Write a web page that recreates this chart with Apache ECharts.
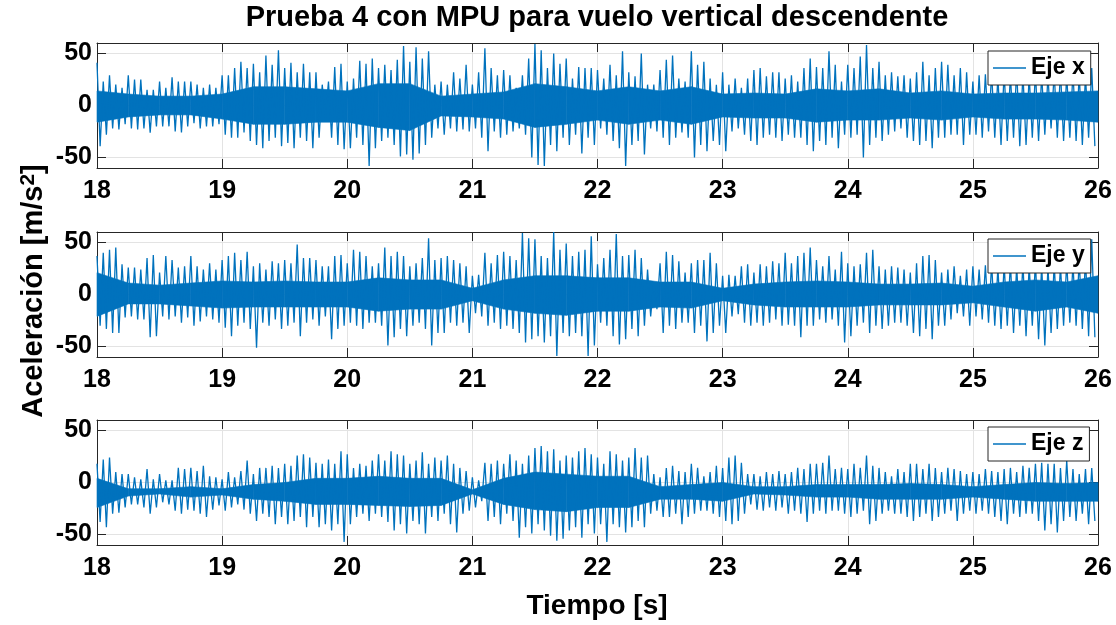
<!DOCTYPE html>
<html>
<head>
<meta charset="utf-8">
<script src="https://cdn.jsdelivr.net/npm/echarts@6/dist/echarts.min.js"></script>
<style>
html,body{margin:0;padding:0;background:#fff;}
#chart{width:1116px;height:625px;}
</style>
</head>
<body>
<div id="chart"></div>
<script>
// ---- Data (time step 0.05 s from 18 s, alternating peak up/down) ----
const tStart = 18;
const peakStep = 0.05;
const coreStep = 0.25;
const xTicks = [18, 19, 20, 21, 22, 23, 24, 25, 26];
const yTicks = [-50, 0, 50];
const seriesNames = ['Eje x', 'Eje y', 'Eje z'];

const xUp = [41,23,29,20,17,29,25,25,15,15,23,17,27,23,23,23,20,17,20,17,29,29,36,42,36,40,32,48,39,53,36,41,32,40,32,32,20,23,37,40,
  23,26,43,40,45,36,39,34,44,57,42,56,45,52,20,23,20,32,26,39,20,32,55,36,29,34,29,17,29,45,59,53,36,50,40,45,26,37,36,36,
  34,26,39,29,52,32,28,50,20,20,34,44,48,26,23,52,39,42,26,20,32,20,26,17,26,34,36,28,32,32,26,29,23,36,45,37,36,52,39,23,
  39,36,47,58,36,42,29,32,28,29,26,32,42,29,36,42,39,29,36,32,23,29,30,32,28,33,30,35,31,29,33,30,28,32,34,30,33,31,29,36];
const xDn = [-39,-28,-22,-23,-18,-22,-23,-22,-26,-20,-20,-20,-25,-26,-20,-17,-22,-20,-20,-18,-28,-31,-31,-26,-34,-38,-41,-34,-31,-39,-36,-41,-31,-34,-41,-31,-12,-31,-38,-42,
  -41,-31,-38,-58,-41,-34,-31,-38,-49,-47,-52,-46,-38,-31,-22,-28,-22,-25,-23,-25,-22,-31,-44,-25,-31,-28,-25,-22,-28,-50,-57,-58,-38,-44,-31,-38,-28,-46,-31,-38,
  -22,-28,-34,-41,-58,-38,-34,-47,-22,-25,-31,-38,-31,-26,-31,-50,-38,-44,-34,-38,-44,-25,-22,-28,-34,-38,-31,-28,-31,-34,-28,-31,-31,-38,-44,-34,-38,-31,-41,-28,
  -31,-28,-50,-38,-31,-34,-28,-25,-22,-31,-34,-38,-34,-41,-31,-31,-28,-28,-38,-28,-28,-31,-25,-31,-38,-34,-31,-39,-38,-31,-34,-28,-22,-31,-34,-31,-34,-38,-31,-39];

const yUp = [37,40,43,45,29,26,26,24,35,38,21,37,33,26,27,37,27,24,30,24,33,37,40,33,41,27,30,24,32,30,33,30,48,35,35,33,27,27,37,38,
  30,43,41,37,27,30,45,37,41,37,27,30,35,54,33,35,37,33,30,27,18,19,40,30,38,41,37,33,59,54,53,37,35,60,43,49,37,41,43,56,
  29,35,43,58,37,38,43,35,24,12,30,41,38,32,21,30,33,33,40,30,18,19,18,27,29,21,29,27,32,30,40,30,37,40,45,33,27,37,24,41,
  30,27,29,40,43,27,24,27,26,24,21,30,37,38,33,21,24,27,18,24,27,24,28,30,26,29,31,27,30,28,32,29,27,30,28,31,29,33,35,53];
const yDn = [-30,-33,-37,-37,-22,-21,-24,-24,-41,-40,-21,-24,-21,-27,-22,-30,-26,-21,-24,-27,-32,-40,-30,-27,-33,-51,-27,-30,-24,-33,-30,-27,-40,-27,-24,-30,-21,-43,-33,-30,
  -27,-30,-33,-27,-27,-30,-49,-41,-33,-40,-30,-27,-33,-49,-37,-37,-27,-30,-27,-37,-18,-21,-30,-27,-33,-30,-33,-37,-46,-43,-40,-46,-40,-59,-37,-40,-37,-40,-59,-49,
  -27,-30,-40,-48,-43,-33,-40,-30,-21,-14,-37,-30,-33,-27,-27,-37,-30,-45,-37,-30,-37,-21,-19,-27,-30,-27,-30,-27,-24,-30,-29,-30,-41,-30,-30,-24,-27,-24,-30,-46,
  -40,-30,-27,-37,-30,-33,-30,-27,-27,-30,-37,-40,-33,-43,-30,-30,-24,-18,-21,-30,-21,-24,-27,-30,-33,-30,-37,-30,-40,-30,-43,-49,-37,-33,-30,-27,-30,-33,-40,-41];

const zUp = [18,22,24,10,8,8,5,3,13,3,8,2,2,14,13,14,11,16,6,5,3,10,5,11,21,8,14,14,16,14,18,16,26,27,24,19,18,22,18,30,
  27,14,18,16,21,27,21,30,27,26,18,21,29,18,24,21,26,18,14,11,5,2,19,18,21,18,27,21,18,26,33,35,30,32,21,26,24,30,33,27,
  24,18,30,27,21,24,33,24,26,8,5,14,16,11,10,18,14,6,10,16,14,24,26,19,8,8,6,10,8,11,8,10,14,13,18,18,19,26,13,14,
  13,18,14,26,16,14,10,6,13,10,18,18,13,18,14,10,14,13,11,8,10,8,13,11,10,13,14,10,16,14,18,19,18,18,14,21,13,8,13,14];
const zDn = [-38,-43,-30,-29,-24,-21,-21,-24,-30,-24,-19,-21,-27,-30,-26,-27,-30,-33,-26,-22,-27,-24,-21,-26,-30,-37,-30,-33,-40,-33,-40,-37,-33,-43,-33,-43,-40,-46,-40,-57,
  -40,-33,-30,-37,-30,-33,-38,-46,-40,-49,-37,-40,-49,-33,-37,-30,-40,-48,-30,-27,-24,-18,-37,-33,-40,-30,-37,-53,-43,-49,-40,-46,-51,-56,-54,-46,-43,-53,-40,-49,
  -40,-57,-40,-43,-48,-43,-37,-43,-30,-27,-33,-33,-30,-40,-33,-30,-27,-27,-30,-33,-37,-40,-37,-30,-21,-26,-27,-24,-27,-24,-30,-27,-30,-38,-30,-27,-30,-27,-27,-30,
  -33,-30,-27,-40,-37,-30,-27,-30,-30,-33,-37,-33,-30,-37,-33,-30,-27,-37,-30,-27,-30,-27,-30,-33,-37,-40,-30,-33,-30,-30,-37,-46,-40,-48,-37,-33,-37,-30,-40,-37];

// dense core of the signal, every 0.25 s
const xCoreUp = [14,11,9,9,11,18,18,16,14,21,21,9,11,13,21,18,14,18,14,18,11,12,11,16,14,16,12,14,11,12,12,13,14];
const xCoreDn = [-16,-11,-9,-9,-13,-18,-18,-16,-16,-21,-24,-10,-11,-13,-21,-18,-14,-18,-14,-18,-11,-12,-12,-16,-14,-14,-12,-14,-11,-13,-13,-14,-16];
const yCoreUp = [21,11,9,11,13,12,13,12,12,16,14,14,6,14,18,18,16,16,12,12,6,10,12,13,12,10,10,11,8,12,14,12,18];
const yCoreDn = [-21,-9,-9,-11,-13,-12,-12,-12,-12,-16,-14,-14,-6,-14,-18,-20,-16,-16,-12,-13,-6,-10,-12,-12,-12,-10,-10,-10,-8,-12,-16,-12,-18];
const zCoreUp = [4,-6,-6,-4,-6,-2,0,4,4,6,4,4,-7,4,10,8,6,6,-4,-2,0,-4,-4,-2,-2,-2,-1,-2,-4,-2,0,-1,0];
const zCoreDn = [-24,-13,-11,-14,-12,-16,-18,-21,-21,-22,-23,-22,-11,-21,-26,-28,-24,-24,-16,-16,-18,-11,-12,-14,-14,-16,-16,-16,-14,-16,-18,-18,-18];

// ---- Build ----
const BLUE = '#0072BD';
const AX = '#262626';
const GRIDC = '#e3e3e3';
const FONT = '"Liberation Sans", Arial, Helvetica, sans-serif';

function zig(up, dn) {
  const d = [];
  for (let i = 0; i < up.length; i++) {
    const t = tStart + i * peakStep;
    d.push([t, up[i]]);
    d.push([t + peakStep / 2, dn[i]]);
  }
  return d;
}
function coreData(up, dn) {
  const d = [];
  for (let i = 0; i < up.length - 1; i++) {
    d.push([tStart + i * coreStep, up[i], dn[i], tStart + (i + 1) * coreStep, up[i + 1], dn[i + 1]]);
  }
  return d;
}
function renderBand(params, api) {
  const p1 = api.coord([api.value(0), api.value(1)]);
  const p2 = api.coord([api.value(3), api.value(4)]);
  const p3 = api.coord([api.value(3), api.value(5)]);
  const p4 = api.coord([api.value(0), api.value(2)]);
  return { type: 'polygon', shape: { points: [p1, p2, p3, p4] }, style: { fill: BLUE, stroke: BLUE, lineWidth: 0.6 } };
}

const ups = [xUp, yUp, zUp], dns = [xDn, yDn, zDn];
const cUps = [xCoreUp, yCoreUp, zCoreUp], cDns = [xCoreDn, yCoreDn, zCoreDn];
const tops = [43, 232, 420];
const legendTops = [51, 239, 427];

const grids = [], xAxes = [], yAxes = [], series = [], legends = [];
for (let g = 0; g < 3; g++) {
  grids.push({ left: 97, right: 18, top: tops[g], height: 125, containLabel: false });
  const xBase = {
    gridIndex: g, type: 'value', min: xTicks[0], max: xTicks[xTicks.length - 1], interval: 1,
    axisLine: { show: true, onZero: false, lineStyle: { color: AX, width: 1 } },
    axisTick: { show: true, inside: true, length: 9, lineStyle: { color: AX, width: 1 } }
  };
  xAxes.push(Object.assign({}, xBase, {
    position: 'bottom',
    axisLabel: { show: true, margin: 11, color: '#000', fontSize: 25, fontWeight: 'bold', fontFamily: FONT },
    splitLine: { show: true, lineStyle: { color: GRIDC, width: 1 } }
  }));
  xAxes.push(Object.assign({}, xBase, {
    position: 'top', axisLabel: { show: false }, splitLine: { show: false }
  }));
  const yBase = {
    gridIndex: g, type: 'value', min: -60, max: 60,
    axisLine: { show: true, onZero: false, lineStyle: { color: AX, width: 1 } },
    axisTick: { show: true, inside: true, length: 9, customValues: yTicks, lineStyle: { color: AX, width: 1 } }
  };
  yAxes.push(Object.assign({}, yBase, {
    position: 'left',
    axisLabel: { show: true, customValues: yTicks, margin: 5, color: '#000', fontSize: 25, fontWeight: 'bold', fontFamily: FONT },
    splitLine: { show: true, lineStyle: { color: GRIDC, width: 1 } }
  }));
  yAxes.push(Object.assign({}, yBase, {
    position: 'right', axisLabel: { show: false }, splitLine: { show: false }
  }));
  const xi = g * 2, yi = g * 2;
  series.push({
    name: 'core' + g, type: 'custom', xAxisIndex: xi, yAxisIndex: yi,
    data: coreData(cUps[g], cDns[g]), renderItem: renderBand, silent: true,
    encode: { x: [0, 3], y: [1, 2, 4, 5] }, z: 2
  });
  series.push({
    name: seriesNames[g], type: 'line', xAxisIndex: xi, yAxisIndex: yi,
    data: zig(ups[g], dns[g]), symbol: 'none', showSymbol: false,
    lineStyle: { width: 1.3, color: BLUE }, itemStyle: { color: BLUE }, z: 3
  });
  legends.push({
    data: [seriesNames[g]], left: 988, top: legendTops[g], orient: 'vertical',
    backgroundColor: '#fff', borderColor: AX, borderWidth: 1, borderRadius: 0,
    padding: [5, 6, 5, 5], icon: 'rect', itemWidth: 33, itemHeight: 1.5, itemGap: 0,
    textStyle: { color: '#000', fontSize: 23, fontWeight: 'bold', fontFamily: FONT, lineHeight: 24 },
    selectedMode: false, z: 10
  });
}

const chart = echarts.init(document.getElementById('chart'), null, { renderer: 'canvas' });
chart.setOption({
  animation: false,
  backgroundColor: '#fff',
  grid: grids, xAxis: xAxes, yAxis: yAxes, series: series, legend: legends,
  graphic: [
    { type: 'text', x: 597, y: 18, style: { text: 'Prueba 4 con MPU para vuelo vertical descendente', fill: '#000', font: 'bold 29px ' + FONT, textAlign: 'center', textVerticalAlign: 'middle' } },
    { type: 'text', x: 597, y: 606, style: { text: 'Tiempo [s]', fill: '#000', font: 'bold 28px ' + FONT, textAlign: 'center', textVerticalAlign: 'middle' } },
    { type: 'text', x: 34, y: 291, rotation: Math.PI / 2, style: {
      text: 'Aceleración [m/s{sup|2}]', fill: '#000', font: 'bold 29px ' + FONT, textAlign: 'center', textVerticalAlign: 'middle',
      rich: { sup: { fontSize: 21, fontWeight: 'bold', fontFamily: FONT, fill: '#000', verticalAlign: 'top', lineHeight: 32 } } } }
  ]
});
</script>
</body>
</html>
